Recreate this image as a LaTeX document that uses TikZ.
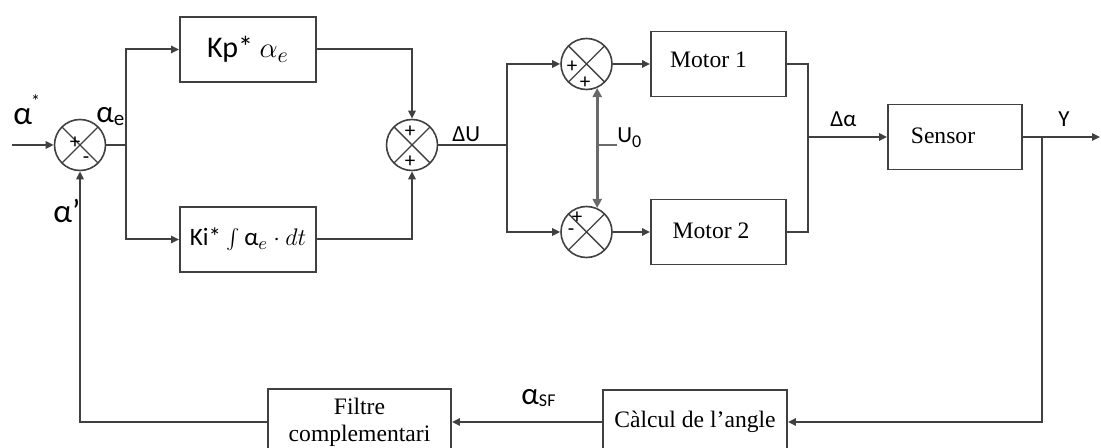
\documentclass[tikz,border=0pt]{standalone}
\usepackage{fontspec}
\setmainfont{Liberation Serif}
\newfontfamily\carlito{Carlito}
\usetikzlibrary{arrows.meta}
\definecolor{lc}{HTML}{404040}
\definecolor{uc}{HTML}{6A6A6A}
\tikzset{
  ln/.style={draw=lc, line width=1pt},
  arr/.style={ln, -{Triangle[length=4pt,width=3.6pt]}},
  uln/.style={draw=uc, line width=1.3pt},
  blk/.style={draw=lc, line width=0.85pt, rectangle, inner sep=0pt, font=\fontsize{11.8}{13.5}\selectfont},
  sumn/.style={circle, draw=lc, line width=0.8pt, minimum size=25.5pt, inner sep=0pt,
    path picture={\draw[lc,line width=0.7pt] (path picture bounding box.south west) -- (path picture bounding box.north east)
      (path picture bounding box.north west) -- (path picture bounding box.south east);}},
  sgn/.style={inner sep=0pt, font=\carlito\fontsize{10.5}{10.5}\selectfont},
  lab/.style={inner sep=0pt, anchor=base west, font=\carlito\fontsize{11.5}{11.5}\selectfont},
  alab/.style={inner sep=0pt, anchor=base west, font=\carlito\fontsize{16.5}{16.5}\selectfont},
}
\newcommand{\subtx}[2]{\raisebox{-#1}{\fontsize{9}{9}\selectfont #2}}
\begin{document}
\begin{tikzpicture}[x=0.5pt,y=-0.5pt]
\useasboundingbox (0,0) rectangle (1101,448);
\clip (0,0) rectangle (1101,448);
% summing junctions
\node[sumn] (s1) at (80,145) {};
\node[sumn] (s2) at (412,145) {};
\node[sumn] (s3) at (586.5,64) {};
\node[sumn] (s4) at (586.5,232) {};
% blocks
\node[blk, minimum width=68pt, minimum height=32.5pt, font=\carlito\fontsize{15}{18}\selectfont] (kp) at (248,49.5) {Kp* $\alpha_e$};
\node[blk, minimum width=68pt, minimum height=32.5pt, font=\carlito\fontsize{12.5}{15}\selectfont] (ki) at (248,239.5) {Ki* $\int$\,α$_e\cdot dt$};
\node[blk, minimum width=67.5pt, minimum height=32.5pt] (m1) at (718.5,64) {\raisebox{4.5pt}{Motor 1}\hspace*{10pt}};
\node[blk, minimum width=67.5pt, minimum height=32.5pt] (m2) at (718.5,232) {\raisebox{1.5pt}{Motor 2}\hspace*{7.5pt}};
\node[blk, minimum width=67pt, minimum height=32.5pt] (sen) at (955,137) {\raisebox{1.5pt}{Sensor}\hspace*{12pt}};
\node[blk, minimum width=92pt, minimum height=32pt] (calc) at (695,422) {\raisebox{2.5pt}{Càlcul de l’angle}};
\node[blk, minimum width=91.5pt, minimum height=33pt, align=center] (fil) at (359.5,422) {Filtre\\complementari};
% signs
\node[sgn] (p1a) at (75,143) {+};
\node[sgn] (p1b) at (86,160) {-};
\node[sgn] (p2a) at (410,132) {+};
\node[sgn] (p2b) at (410,162) {+};
\node[sgn] (p3a) at (572,67) {+};
\node[sgn] (p3b) at (585,83) {+};
\node[sgn] (p4a) at (577,218) {+};
\node[sgn] (p4b) at (571,232) {-};
% coordinates
\coordinate (in) at (12,145);
\coordinate (b1) at (126,145);
\coordinate (b2) at (507,145);
\coordinate (b3) at (808,137);
\coordinate (b4) at (1042,137);
\coordinate (out) at (1100,137);
\coordinate (u0) at (597,145);
\coordinate (u0e) at (617,145);
% connectors
\draw[arr] (in) -- (s1);
\draw[ln] (s1) -- (b1);
\draw[arr] (b1) |- (kp);
\draw[arr] (b1) |- (ki);
\draw[arr] (kp) -| (s2);
\draw[arr] (ki) -| (s2);
\draw[ln] (s2) -- (b2);
\draw[arr] (b2) |- (s3);
\draw[arr] (b2) |- (s4);
\draw[arr] (s3) -- (m1);
\draw[arr] (s4) -- (m2);
\draw[ln] (m1) -| (b3);
\draw[ln] (m2) -| (b3);
\draw[arr] (b3) -- (sen);
\draw[arr] (sen) -- (out);
\draw[arr] (b4) |- (calc);
\draw[arr] (calc) -- (fil);
\draw[arr] (fil) -| (s1);
\draw[uln, {Triangle[length=4.5pt,width=4.5pt]}-{Triangle[length=4.5pt,width=4.5pt]}] (s4.66) -- (s3.-66);
\draw[uln] (u0) -- (u0e);
% labels
\node[alab] (lastar) at (13,125) {α\kern-0.5pt\raisebox{8.5pt}{\fontsize{9}{9}\selectfont *}};
\node[alab, font=\carlito\fontsize{15.5}{15.5}\selectfont] (lae) at (96,123) {α\subtx{1.5pt}{\fontsize{10.5}{10.5}\selectfont e}};
\node[alab] (lap) at (53,223) {α’};
\node[lab] (ldu) at (452,142) {ΔU};
\node[lab] (lu0) at (617,143) {U\subtx{2.5pt}{0}};
\node[lab] (lda) at (830,127) {Δα};
\node[lab] (ly) at (1058,127) {Y};
\node[alab, font=\carlito\fontsize{15.5}{15.5}\selectfont] (lsf) at (521,404) {α\subtx{1pt}{SF}};
\end{tikzpicture}
\end{document}
